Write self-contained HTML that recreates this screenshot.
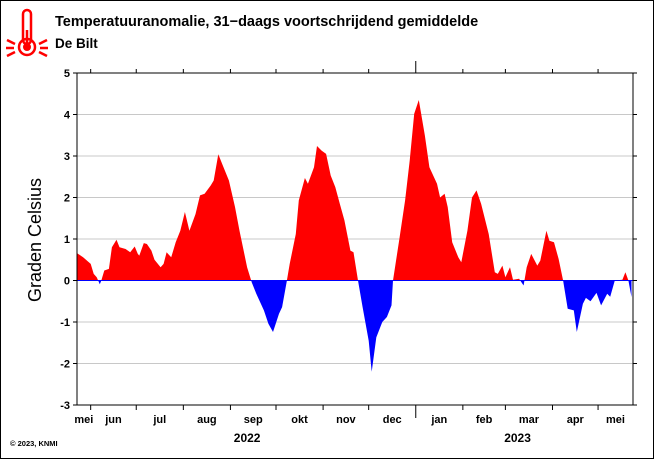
<!DOCTYPE html>
<html><head><meta charset="utf-8"><style>
html,body{margin:0;padding:0;background:#fff}
svg{display:block;font-family:"Liberation Sans",Arial,sans-serif}
</style></head><body>
<svg width="654" height="459" viewBox="0 0 654 459">
<rect x="0.5" y="0.5" width="653" height="458" fill="#fff" stroke="#000"/>
<g stroke="#f00" fill="none" stroke-width="2.5">
<rect x="23" y="10" width="8" height="34" rx="4"/>
<circle cx="27" cy="47" r="8"/>
<circle cx="27" cy="47" r="4" fill="#f00" stroke="none"/>
<line x1="27" y1="30" x2="27" y2="45"/>
<line x1="7" y1="40" x2="15" y2="44"/><line x1="6" y1="48" x2="14" y2="48"/><line x1="7" y1="56" x2="15" y2="52"/>
<line x1="47" y1="40" x2="39" y2="44"/><line x1="48" y1="48" x2="40" y2="48"/><line x1="47" y1="56" x2="39" y2="52"/>
</g>
<text x="55" y="26" font-size="14.5" font-weight="bold">Temperatuuranomalie, 31−daags voortschrijdend gemiddelde</text>
<text x="55" y="48" font-size="13.5" font-weight="bold">De Bilt</text>
<text x="41" y="240" font-size="18" text-anchor="middle" transform="rotate(-90 41 240)">Graden Celsius</text>
<text x="10" y="446" font-size="7.5" font-weight="bold">© 2023, KNMI</text>
<g id="grid"></g>
<defs>
<clipPath id="above"><rect id="clipA" x="0" y="0" width="654" height="0"/></clipPath>
<clipPath id="below"><rect id="clipB" x="0" y="0" width="654" height="459"/></clipPath>
</defs>
<g id="series"></g>
<g id="axes"></g>
</svg>
<script>
const days=[0,4,9,11,13,15,16,18,21,23,26,28,32,35,38,40,41,44,46,49,51,55,57,59,62,65,68,71,74,78,81,84,88,90,93,96,100,104,107,112,115,118,123,126,129,133,135,138,140,144,146,150,152,156,158,161,164,167,170,173,176,180,182,185,188,192,194,197,201,204,207,208,212,216,219,222,225,229,232,237,239,242,244,247,251,253,257,260,263,266,271,275,277,280,282,285,287,291,294,296,299,303,305,309,311,314,317,320,323,327,329,333,335,338,342,345,349,351,354,359,361,363,365];
const anomaly=[0.66,0.56,0.4,0.16,0.08,-0.09,0,0.24,0.28,0.8,0.98,0.8,0.76,0.68,0.82,0.64,0.6,0.9,0.88,0.72,0.5,0.32,0.4,0.68,0.56,0.92,1.2,1.65,1.2,1.6,2.05,2.09,2.29,2.41,3.04,2.77,2.41,1.77,1.2,0.32,-0.04,-0.32,-0.72,-1.04,-1.24,-0.8,-0.64,-0.04,0.4,1.12,1.93,2.47,2.33,2.73,3.24,3.13,3.05,2.53,2.25,1.85,1.45,0.72,0.68,0,-0.64,-1.45,-2.2,-1.37,-1.0,-0.88,-0.6,0,0.96,1.93,2.89,4.02,4.35,3.49,2.73,2.33,2.0,2.09,1.77,0.92,0.56,0.44,1.2,2.0,2.17,1.85,1.12,0.2,0.16,0.36,0.08,0.32,0.02,0.04,-0.12,0.32,0.64,0.36,0.48,1.2,0.96,0.92,0.52,0,-0.68,-0.72,-1.24,-0.56,-0.42,-0.5,-0.3,-0.6,-0.32,-0.39,0,0.02,0.2,0,-0.4];
const yTicks=[5,4,3,2,1,0,-1,-2,-3];
const monthLabels=["mei","jun","jul","aug","sep","okt","nov","dec","jan","feb","mar","apr","mei"];
const monthStarts=[-22,9,39,70,101,131,162,192,223,254,282,313,343,374];
const yearLabels=["2022","2023"];
const yearCenters=[112,290];

const L=77,R=633,T=73,B=405,D0=0,D1=366;
const xs=d=>L+(d-D0)*(R-L)/(D1-D0);
const ys=v=>T+(5-v)*(B-T)/8;
const NS="http://www.w3.org/2000/svg";
function mk(tag,attrs,parent){const e=document.createElementNS(NS,tag);for(const k in attrs)e.setAttribute(k,attrs[k]);parent.appendChild(e);return e;}
const grid=document.getElementById('grid'),series=document.getElementById('series'),axes=document.getElementById('axes');
const y0=ys(0);
document.getElementById('clipA').setAttribute('height',y0);
document.getElementById('clipB').setAttribute('y',y0);
yTicks.forEach(v=>{
 const g=mk('line',{x1:L,x2:R,y1:ys(v),y2:ys(v),stroke:'#c8c8c8','stroke-width':1},grid);
 
 
 const t=mk('text',{x:L-7,y:ys(v)+4,'font-size':11,'font-weight':'bold','text-anchor':'end'},axes);
 t.textContent=v;
 
 
 mk('line',{x1:L-4,x2:L,y1:ys(v),y2:ys(v),stroke:'#000'},axes);
 mk('line',{x1:R,x2:R+4,y1:ys(v),y2:ys(v),stroke:'#000'},axes);
});
let d='M'+xs(days[0])+','+y0;
days.forEach((dd,i)=>{d+=' L'+xs(dd).toFixed(1)+','+ys(anomaly[i]).toFixed(1);});
d+=' L'+xs(days[days.length-1])+','+y0+' Z';
const ar=mk('path',{d:d,fill:'#f00','clip-path':'url(#above)'},series);


const ab=mk('path',{d:d,fill:'#00f','clip-path':'url(#below)'},series);


const zl=mk('line',{x1:L,x2:R,y1:y0,y2:y0,stroke:'#00f','stroke-width':1},series);


const box=mk('rect',{x:L,y:T,width:R-L,height:B-T,fill:'none',stroke:'#000','stroke-width':1},axes);


monthStarts.forEach((m,i)=>{
 const x=xs(m);
 if(x>L&&x<R){
  const big=(i===8);
  mk('line',{x1:x,x2:x,y1:T-(big?12:4),y2:T,stroke:'#000'},axes);
  mk('line',{x1:x,x2:x,y1:B,y2:B+(big?13:5),stroke:'#000'},axes);
 }
 if(i<monthLabels.length){
  const cx=(Math.max(xs(m),L)+Math.min(xs(monthStarts[i+1]),R))/2;
  const t=mk('text',{x:cx,y:423,'font-size':11,'font-weight':'bold','text-anchor':'middle'},axes);
  t.textContent=monthLabels[i];
  
  
 }
});
yearLabels.forEach((y,i)=>{
 const t=mk('text',{x:xs(yearCenters[i]),y:442,'font-size':12,'font-weight':'bold','text-anchor':'middle'},axes);
 t.textContent=y;
 
 
});
</script>
</body></html>
